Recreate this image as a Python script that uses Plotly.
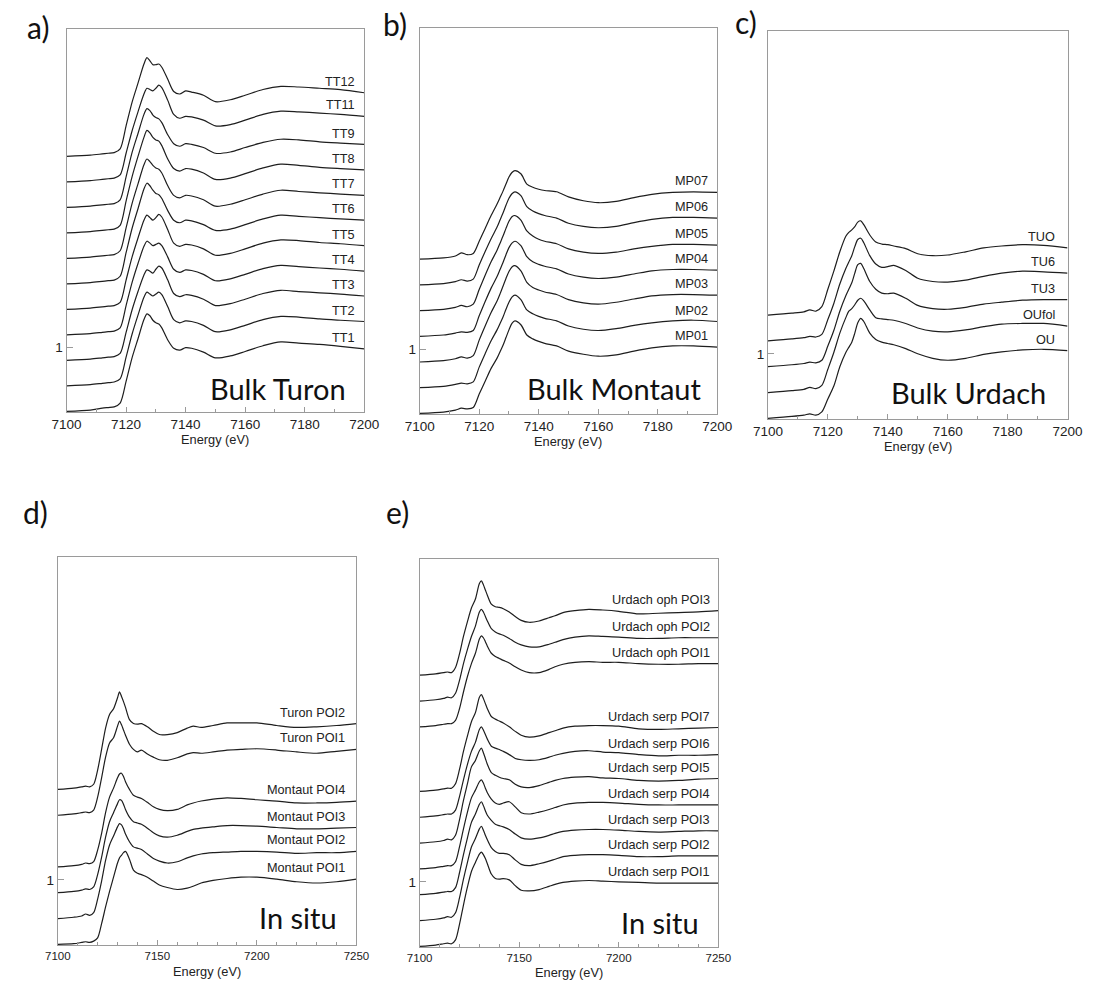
import plotly.graph_objects as go

W, H = 1101, 986

# ---------------- data ----------------
E_BULK = [7100, 7108, 7112, 7114, 7116, 7118, 7120, 7122, 7124, 7126, 7127, 7128, 7129, 7130,
          7131, 7132, 7134, 7136, 7138, 7140, 7142, 7146, 7150, 7155, 7160, 7166, 7172, 7178,
          7185, 7192, 7200]

E_SITU = [7100, 7108, 7112, 7114, 7116, 7118, 7120, 7122, 7124, 7126, 7128, 7130, 7131, 7132,
          7133, 7134, 7136, 7138, 7140, 7142, 7145, 7148, 7151, 7155, 7160, 7165, 7168, 7172,
          7178, 7185, 7192, 7200, 7210, 7220, 7230, 7240, 7250]

# a) Bulk Turon
TURON_LABELS = ["TT1", "TT2", "TT3", "TT4", "TT5", "TT6", "TT7", "TT8", "TT9", "TT11", "TT12"]
TT1 = [0.00, 0.02, 0.05, 0.06, 0.07, 0.13, 0.47, 0.84, 1.14, 1.44, 1.53, 1.50, 1.43, 1.39, 1.37, 1.31, 1.12, 0.99, 0.96, 1.00, 0.99, 0.93, 0.84, 0.87, 0.94, 1.03, 1.09, 1.07, 1.05, 1.02, 0.98]
TT2 = [0.00, 0.02, 0.04, 0.05, 0.06, 0.11, 0.45, 0.81, 1.11, 1.39, 1.47, 1.44, 1.41, 1.44, 1.47, 1.43, 1.24, 1.04, 0.99, 1.02, 1.01, 0.95, 0.85, 0.88, 0.95, 1.04, 1.09, 1.08, 1.05, 1.03, 1.01]
TT3 = [0.00, 0.02, 0.04, 0.05, 0.06, 0.11, 0.44, 0.79, 1.08, 1.34, 1.42, 1.40, 1.37, 1.43, 1.48, 1.45, 1.26, 1.05, 1.00, 1.03, 1.02, 0.96, 0.86, 0.89, 0.96, 1.05, 1.10, 1.08, 1.06, 1.04, 1.01]
TT4 = [0.00, 0.02, 0.04, 0.05, 0.06, 0.11, 0.46, 0.82, 1.12, 1.39, 1.47, 1.44, 1.40, 1.42, 1.44, 1.40, 1.22, 1.03, 0.98, 1.02, 1.01, 0.95, 0.85, 0.88, 0.95, 1.04, 1.09, 1.07, 1.05, 1.03, 1.00]
TT5 = [0.00, 0.02, 0.04, 0.05, 0.06, 0.11, 0.46, 0.82, 1.12, 1.40, 1.48, 1.44, 1.40, 1.44, 1.49, 1.45, 1.25, 1.04, 0.99, 1.02, 1.01, 0.95, 0.85, 0.88, 0.95, 1.04, 1.09, 1.08, 1.05, 1.03, 1.00]
TT6 = [0.00, 0.02, 0.04, 0.05, 0.06, 0.12, 0.49, 0.87, 1.18, 1.49, 1.58, 1.54, 1.47, 1.42, 1.40, 1.34, 1.15, 1.00, 0.96, 1.00, 0.99, 0.93, 0.84, 0.86, 0.93, 1.02, 1.08, 1.06, 1.04, 1.02, 1.00]
TT7 = [0.00, 0.02, 0.04, 0.05, 0.06, 0.12, 0.48, 0.86, 1.17, 1.47, 1.56, 1.52, 1.46, 1.42, 1.40, 1.34, 1.14, 0.99, 0.95, 0.99, 0.98, 0.92, 0.82, 0.85, 0.92, 1.01, 1.07, 1.05, 1.03, 1.01, 0.99]
TT8 = [0.00, 0.02, 0.04, 0.05, 0.06, 0.12, 0.50, 0.88, 1.20, 1.50, 1.61, 1.57, 1.50, 1.46, 1.44, 1.37, 1.16, 1.01, 0.97, 1.01, 1.00, 0.94, 0.84, 0.86, 0.93, 1.02, 1.08, 1.06, 1.03, 1.01, 0.99]
TT9 = [0.00, 0.02, 0.04, 0.05, 0.06, 0.12, 0.48, 0.86, 1.16, 1.46, 1.55, 1.52, 1.45, 1.41, 1.39, 1.33, 1.14, 1.00, 0.96, 1.00, 0.99, 0.94, 0.85, 0.87, 0.94, 1.02, 1.07, 1.06, 1.03, 1.01, 0.99]
TT11 = [0.00, 0.02, 0.04, 0.05, 0.06, 0.11, 0.45, 0.80, 1.10, 1.38, 1.47, 1.45, 1.43, 1.47, 1.52, 1.48, 1.28, 1.06, 1.00, 1.03, 1.02, 0.97, 0.88, 0.90, 0.97, 1.06, 1.11, 1.10, 1.08, 1.06, 1.03]
TT12 = [0.00, 0.02, 0.04, 0.05, 0.06, 0.12, 0.48, 0.85, 1.15, 1.45, 1.55, 1.50, 1.44, 1.44, 1.45, 1.40, 1.21, 1.02, 0.98, 1.03, 1.01, 0.96, 0.86, 0.89, 0.96, 1.05, 1.10, 1.09, 1.07, 1.05, 1.00]

# b) Bulk Montaut
MONTAUT_LABELS = ["MP01", "MP02", "MP03", "MP04", "MP05", "MP06", "MP07"]
MP01 = [0.00, 0.02, 0.05, 0.08, 0.07, 0.09, 0.30, 0.50, 0.70, 0.86, 0.96, 1.06, 1.18, 1.30, 1.40, 1.44, 1.38, 1.22, 1.16, 1.12, 1.09, 1.05, 0.97, 0.92, 0.89, 0.91, 0.97, 1.02, 1.05, 1.05, 1.03]
MP02 = [0.00, 0.02, 0.05, 0.07, 0.06, 0.09, 0.32, 0.53, 0.73, 0.90, 1.00, 1.10, 1.22, 1.33, 1.41, 1.44, 1.37, 1.21, 1.15, 1.11, 1.08, 1.04, 0.96, 0.91, 0.89, 0.92, 0.97, 1.01, 1.04, 1.05, 1.03]
MP03 = [0.00, 0.02, 0.05, 0.08, 0.06, 0.10, 0.34, 0.56, 0.77, 0.95, 1.06, 1.18, 1.30, 1.41, 1.48, 1.50, 1.42, 1.24, 1.16, 1.12, 1.09, 1.05, 0.97, 0.92, 0.90, 0.93, 0.98, 1.03, 1.05, 1.05, 1.04]
MP04 = [0.00, 0.02, 0.05, 0.07, 0.06, 0.09, 0.32, 0.54, 0.75, 0.93, 1.04, 1.15, 1.27, 1.38, 1.45, 1.48, 1.41, 1.24, 1.16, 1.12, 1.09, 1.05, 0.97, 0.92, 0.90, 0.92, 0.97, 1.02, 1.04, 1.04, 1.03]
MP05 = [0.00, 0.02, 0.05, 0.08, 0.06, 0.10, 0.33, 0.55, 0.76, 0.94, 1.05, 1.16, 1.28, 1.39, 1.46, 1.48, 1.41, 1.24, 1.16, 1.11, 1.08, 1.04, 0.96, 0.91, 0.89, 0.91, 0.96, 1.00, 1.03, 1.03, 1.02]
MP06 = [0.00, 0.02, 0.05, 0.08, 0.06, 0.09, 0.31, 0.52, 0.72, 0.90, 1.01, 1.12, 1.24, 1.35, 1.42, 1.45, 1.39, 1.22, 1.15, 1.11, 1.08, 1.04, 0.96, 0.91, 0.89, 0.91, 0.97, 1.02, 1.05, 1.05, 1.04]
MP07 = [0.00, 0.02, 0.05, 0.10, 0.07, 0.09, 0.28, 0.48, 0.68, 0.86, 0.96, 1.06, 1.17, 1.28, 1.35, 1.38, 1.33, 1.17, 1.12, 1.09, 1.07, 1.05, 0.97, 0.91, 0.88, 0.90, 0.96, 1.01, 1.04, 1.05, 1.04]

# c) Bulk Urdach
URDACH_LABELS = ["OU", "OUfol", "TU3", "TU6", "TUO"]
OU = [0.00, 0.03, 0.05, 0.07, 0.05, 0.10, 0.30, 0.50, 0.80, 1.02, 1.10, 1.18, 1.32, 1.48, 1.55, 1.50, 1.32, 1.22, 1.18, 1.16, 1.14, 1.08, 1.00, 0.93, 0.90, 0.93, 0.99, 1.03, 1.06, 1.07, 1.05]
OUFOL = [0.00, 0.03, 0.05, 0.08, 0.06, 0.11, 0.36, 0.62, 0.92, 1.16, 1.26, 1.30, 1.36, 1.43, 1.46, 1.42, 1.28, 1.16, 1.14, 1.13, 1.12, 1.07, 1.00, 0.95, 0.94, 0.97, 1.02, 1.06, 1.07, 1.07, 1.03]
TU3 = [0.00, 0.03, 0.05, 0.07, 0.06, 0.10, 0.32, 0.56, 0.86, 1.10, 1.20, 1.30, 1.45, 1.58, 1.60, 1.52, 1.32, 1.20, 1.14, 1.13, 1.14, 1.06, 0.95, 0.90, 0.89, 0.92, 0.97, 1.00, 1.03, 1.04, 1.04]
TU6 = [0.00, 0.03, 0.05, 0.07, 0.06, 0.10, 0.33, 0.58, 0.88, 1.12, 1.22, 1.32, 1.46, 1.57, 1.59, 1.52, 1.32, 1.19, 1.14, 1.15, 1.17, 1.09, 0.97, 0.92, 0.91, 0.94, 1.00, 1.05, 1.08, 1.07, 1.05]
TUO = [0.00, 0.03, 0.05, 0.08, 0.06, 0.13, 0.40, 0.68, 0.98, 1.22, 1.28, 1.32, 1.37, 1.44, 1.46, 1.40, 1.24, 1.13, 1.10, 1.09, 1.07, 1.03, 0.95, 0.92, 0.93, 0.98, 1.04, 1.07, 1.09, 1.08, 1.04]

# d) In situ Turon / Montaut
SITU_D_LABELS = ["Montaut POI1", "Montaut POI2", "Montaut POI3", "Montaut POI4", "Turon POI1", "Turon POI2"]
MONTAUT_POI1 = [0.00, 0.01, 0.03, 0.04, 0.03, 0.05, 0.10, 0.32, 0.58, 0.82, 1.04, 1.26, 1.34, 1.38, 1.42, 1.44, 1.32, 1.15, 1.10, 1.08, 1.04, 0.98, 0.92, 0.88, 0.85, 0.87, 0.90, 0.95, 0.99, 1.02, 1.04, 1.04, 1.01, 0.97, 0.95, 0.97, 1.01]
MONTAUT_POI2 = [0.00, 0.02, 0.04, 0.07, 0.05, 0.09, 0.30, 0.58, 0.90, 1.14, 1.28, 1.42, 1.47, 1.45, 1.39, 1.31, 1.19, 1.11, 1.09, 1.07, 1.00, 0.93, 0.89, 0.86, 0.88, 0.94, 0.97, 1.00, 1.02, 1.03, 1.04, 1.04, 1.03, 1.01, 1.02, 1.02, 1.04]
MONTAUT_POI3 = [0.00, 0.02, 0.04, 0.06, 0.05, 0.09, 0.28, 0.55, 0.86, 1.10, 1.24, 1.38, 1.44, 1.43, 1.37, 1.29, 1.17, 1.10, 1.08, 1.06, 1.00, 0.93, 0.88, 0.86, 0.89, 0.95, 0.98, 1.00, 1.02, 1.04, 1.04, 1.03, 1.01, 0.99, 0.99, 1.00, 1.01]
MONTAUT_POI4 = [0.00, 0.02, 0.04, 0.06, 0.05, 0.08, 0.26, 0.52, 0.84, 1.08, 1.22, 1.38, 1.44, 1.45, 1.40, 1.32, 1.20, 1.11, 1.08, 1.06, 1.00, 0.93, 0.89, 0.87, 0.89, 0.96, 0.99, 1.02, 1.05, 1.07, 1.06, 1.04, 1.02, 0.99, 0.99, 1.00, 1.02]
TURON_POI1 = [0.00, 0.02, 0.04, 0.05, 0.04, 0.08, 0.28, 0.58, 0.90, 1.12, 1.20, 1.38, 1.46, 1.40, 1.32, 1.24, 1.10, 1.02, 0.98, 1.01, 0.95, 0.90, 0.86, 0.85, 0.89, 0.95, 0.97, 0.96, 0.98, 1.01, 1.02, 1.03, 1.01, 0.98, 0.96, 0.99, 1.02]
TURON_POI2 = [0.00, 0.02, 0.04, 0.05, 0.04, 0.08, 0.30, 0.62, 0.95, 1.16, 1.25, 1.42, 1.51, 1.44, 1.36, 1.27, 1.08, 1.02, 1.01, 1.02, 0.97, 0.90, 0.85, 0.85, 0.88, 0.95, 0.98, 0.96, 0.99, 1.03, 1.03, 1.03, 0.99, 0.96, 0.97, 0.99, 1.02]

# e) In situ Urdach
SITU_E_LABELS = ["Urdach serp POI1", "Urdach serp POI2", "Urdach serp POI3", "Urdach serp POI4",
                 "Urdach serp POI5", "Urdach serp POI6", "Urdach serp POI7",
                 "Urdach oph POI1", "Urdach oph POI2", "Urdach oph POI3"]
SERP_POI1 = [0.00, 0.02, 0.04, 0.05, 0.04, 0.10, 0.34, 0.64, 0.92, 1.16, 1.30, 1.43, 1.46, 1.42, 1.36, 1.28, 1.12, 1.05, 1.04, 1.05, 1.03, 0.94, 0.87, 0.86, 0.88, 0.93, 0.96, 0.99, 1.01, 1.02, 1.01, 1.00, 0.99, 0.98, 0.98, 0.98, 0.98]
SERP_POI2 = [0.00, 0.02, 0.04, 0.06, 0.05, 0.12, 0.35, 0.64, 0.90, 1.14, 1.27, 1.42, 1.46, 1.40, 1.32, 1.25, 1.13, 1.07, 1.04, 1.04, 1.02, 0.94, 0.87, 0.85, 0.88, 0.92, 0.95, 0.99, 1.01, 1.02, 1.02, 1.01, 0.99, 0.99, 1.00, 1.00, 1.00]
SERP_POI3 = [0.00, 0.02, 0.04, 0.05, 0.05, 0.11, 0.34, 0.62, 0.88, 1.12, 1.25, 1.40, 1.44, 1.38, 1.30, 1.23, 1.15, 1.09, 1.07, 1.05, 1.01, 0.94, 0.88, 0.86, 0.88, 0.92, 0.95, 0.98, 1.00, 1.01, 1.01, 1.00, 0.98, 0.97, 0.98, 0.99, 0.99]
SERP_POI4 = [0.00, 0.02, 0.04, 0.05, 0.05, 0.11, 0.34, 0.62, 0.88, 1.10, 1.22, 1.35, 1.38, 1.33, 1.25, 1.18, 1.08, 1.02, 1.00, 1.02, 1.04, 0.96, 0.87, 0.85, 0.88, 0.92, 0.95, 0.99, 1.02, 1.03, 1.03, 1.02, 1.00, 0.99, 0.99, 0.99, 0.99]
SERP_POI5 = [0.00, 0.02, 0.04, 0.06, 0.05, 0.12, 0.36, 0.66, 0.92, 1.18, 1.28, 1.43, 1.47, 1.40, 1.31, 1.22, 1.09, 1.05, 1.02, 1.00, 0.98, 0.91, 0.87, 0.86, 0.89, 0.94, 0.97, 1.00, 1.02, 1.03, 1.01, 1.00, 0.97, 0.96, 0.97, 0.99, 1.00]
SERP_POI6 = [0.00, 0.02, 0.04, 0.05, 0.05, 0.11, 0.32, 0.58, 0.82, 1.02, 1.16, 1.36, 1.40, 1.35, 1.28, 1.21, 1.10, 1.07, 1.05, 1.02, 0.97, 0.91, 0.89, 0.88, 0.89, 0.93, 0.96, 0.99, 1.02, 1.03, 1.01, 1.00, 0.97, 0.95, 0.96, 0.96, 0.97]
SERP_POI7 = [0.00, 0.02, 0.04, 0.05, 0.05, 0.12, 0.34, 0.62, 0.86, 1.08, 1.22, 1.46, 1.50, 1.44, 1.36, 1.28, 1.16, 1.12, 1.09, 1.06, 1.00, 0.93, 0.87, 0.84, 0.86, 0.91, 0.94, 0.98, 1.01, 1.02, 1.02, 1.01, 0.97, 0.96, 0.97, 0.98, 0.99]
OPH_POI1 = [0.00, 0.02, 0.04, 0.05, 0.05, 0.10, 0.28, 0.54, 0.78, 0.98, 1.14, 1.36, 1.41, 1.38, 1.32, 1.25, 1.14, 1.09, 1.06, 1.03, 0.99, 0.93, 0.88, 0.84, 0.84, 0.89, 0.93, 0.97, 1.00, 1.01, 1.00, 1.00, 0.98, 0.97, 0.97, 0.98, 0.98]
OPH_POI2 = [0.00, 0.02, 0.04, 0.06, 0.05, 0.12, 0.32, 0.58, 0.80, 1.00, 1.16, 1.38, 1.42, 1.38, 1.31, 1.24, 1.12, 1.07, 1.04, 1.02, 0.97, 0.91, 0.87, 0.84, 0.84, 0.88, 0.91, 0.95, 0.99, 1.01, 1.00, 0.99, 0.97, 0.97, 0.98, 0.98, 0.98]
OPH_POI3 = [0.00, 0.02, 0.04, 0.05, 0.04, 0.12, 0.33, 0.60, 0.83, 1.04, 1.18, 1.42, 1.46, 1.40, 1.32, 1.24, 1.10, 1.06, 1.05, 1.03, 0.98, 0.91, 0.85, 0.82, 0.84, 0.89, 0.92, 0.97, 1.00, 1.02, 1.01, 0.99, 0.95, 0.96, 0.97, 0.98, 1.00]

# vertical stacking offsets (normalised absorbance units)
OFF_A = [0.0, 0.4, 0.8, 1.2, 1.6, 2.0, 2.4, 2.8, 3.2, 3.6, 4.0]
OFF_B = [0.0, 0.4, 0.8, 1.2, 1.6, 2.0, 2.4]
OFF_C = [0.0, 0.4, 0.8, 1.2, 1.6]
OFF_D = [0.0, 0.4, 0.8, 1.2, 2.0, 2.4]
OFF_E = [0.0, 0.4, 0.8, 1.2, 1.6, 2.0, 2.4, 3.4, 3.8, 4.2]

# ---------------- layout helpers ----------------
def px_x(p):
    return p / W


def px_y(p):
    return 1 - p / H


LINE_COLOR = "#1e1e1e"
FRAME = "#9a9a9a"
FONT = "Liberation Sans, Arial, sans-serif"
BIG_FONT = "Lato, Open Sans, sans-serif"

panels = [
    dict(energy=E_BULK, labels=TURON_LABELS, series=[TT1, TT2, TT3, TT4, TT5, TT6, TT7, TT8, TT9, TT11, TT12],
         offsets=OFF_A, box=(53, 29, 359, 412), xr=[7100, 7200], dtick=20, minor=10, tickfs=13.5,
         lab_x=7197.5, big="Bulk Turon", big_pos=(342, 389), letter="a)", letter_pos=(24, 27), title_y=440),
    dict(energy=E_BULK, labels=MONTAUT_LABELS, series=[MP01, MP02, MP03, MP04, MP05, MP06, MP07],
         offsets=OFF_B, box=(416, 28, 722, 414), xr=[7100, 7200], dtick=20, minor=10, tickfs=13.5,
         lab_x=7197.5, big="Bulk Montaut", big_pos=(707, 388), letter="b)", letter_pos=(391, 24), title_y=441),
    dict(energy=E_BULK, labels=URDACH_LABELS, series=[OU, OUFOL, TU3, TU6, TUO],
         offsets=OFF_C, box=(774, 31, 1082, 419), xr=[7100, 7200], dtick=20, minor=10, tickfs=13.5,
         lab_x=7196.5, big="Bulk Urdach", big_pos=(1062, 392), letter="c)", letter_pos=(751, 22), title_y=447),
    dict(energy=E_SITU, labels=SITU_D_LABELS,
         series=[MONTAUT_POI1, MONTAUT_POI2, MONTAUT_POI3, MONTAUT_POI4, TURON_POI1, TURON_POI2],
         offsets=OFF_D, box=(44, 557, 351, 945), xr=[7100, 7250], dtick=50, minor=10, tickfs=11.5,
         lab_x=7245.5, big="In situ", big_pos=(333, 917), letter="d)", letter_pos=(21, 512), title_y=971),
    dict(energy=E_SITU, labels=SITU_E_LABELS,
         series=[SERP_POI1, SERP_POI2, SERP_POI3, SERP_POI4, SERP_POI5, SERP_POI6, SERP_POI7,
                 OPH_POI1, OPH_POI2, OPH_POI3],
         offsets=OFF_E, box=(416, 559, 723, 947), xr=[7100, 7250], dtick=50, minor=10, tickfs=11.5,
         lab_x=7247, big="In situ", big_pos=(705, 922), letter="e)", letter_pos=(393, 512), title_y=972),
]

fig = go.Figure()
annotations = []
layout = dict(width=W, height=H, margin=dict(l=0, r=0, t=0, b=0),
              paper_bgcolor="white", plot_bgcolor="white", showlegend=False)

for i, p in enumerate(panels):
    n = "" if i == 0 else str(i + 1)
    xa, ya = "x" + n, "y" + n
    x0, y0, x1, y1 = p["box"]
    for lab, vals, off in zip(p["labels"], p["series"], p["offsets"]):
        fig.add_trace(go.Scatter(
            x=p["energy"], y=[v + off for v in vals], mode="lines",
            line=dict(color=LINE_COLOR, width=1.2, shape="spline", smoothing=0.8),
            xaxis=xa, yaxis=ya, hoverinfo="skip"))
        annotations.append(dict(
            x=p["lab_x"], y=vals[-1] + off + 0.17, xref=xa, yref=ya, text=lab, showarrow=False,
            xanchor="right", yanchor="middle", font=dict(family=FONT, size=12.7, color="#222")))
    layout["xaxis" + n] = dict(
        domain=[px_x(x0), px_x(x1)], anchor=ya, range=p["xr"], tick0=7100, dtick=p["dtick"],
        ticks="inside", ticklen=5, tickcolor=FRAME, showline=True, mirror=True, linecolor=FRAME,
        linewidth=1, showgrid=False, zeroline=False,
        minor=dict(dtick=p["minor"], tick0=7100, ticks="inside", ticklen=3, tickcolor=FRAME),
        tickfont=dict(family=FONT, size=p["tickfs"], color="#222"))
    layout["yaxis" + n] = dict(
        domain=[px_y(y1), px_y(y0)], anchor=xa, range=[-0.01, 6.0], tickvals=[1], ticktext=["1"],
        ticks="inside", ticklen=6, tickcolor=FRAME, showline=True, mirror=True, linecolor=FRAME,
        linewidth=1, showgrid=False, zeroline=False,
        tickfont=dict(family=FONT, size=13.5, color="#222"))
    annotations.append(dict(x=px_x((x0 + x1) / 2), y=px_y(p["title_y"]), xref="paper", yref="paper",
                            text="Energy (eV)", showarrow=False, xanchor="center", yanchor="middle",
                            font=dict(family=FONT, size=12.8, color="#222")))
    bx, by = p["big_pos"]
    annotations.append(dict(x=px_x(bx), y=px_y(by), xref="paper", yref="paper", text=p["big"],
                            showarrow=False, xanchor="right", yanchor="middle",
                            font=dict(family=BIG_FONT, size=29, color="#111")))
    lx, ly = p["letter_pos"]
    annotations.append(dict(x=px_x(lx), y=px_y(ly), xref="paper", yref="paper", text=p["letter"],
                            showarrow=False, xanchor="center", yanchor="middle",
                            font=dict(family=BIG_FONT, size=30, color="#111")))

layout["annotations"] = annotations
fig.update_layout(**layout)
fig.write_html("out.html", config={"displayModeBar": False, "staticPlot": True},
               post_script="document.body.style.margin='0';")
